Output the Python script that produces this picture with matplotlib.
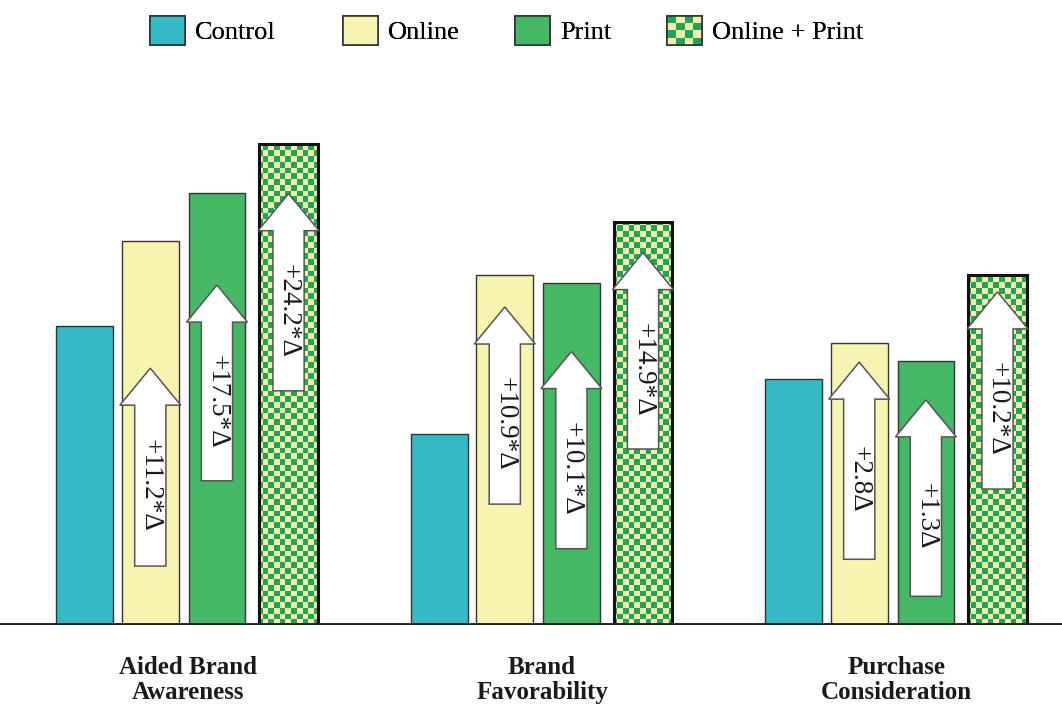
import numpy as np
import matplotlib
matplotlib.use("Agg")
import matplotlib.pyplot as plt
from matplotlib.patches import Rectangle, FancyArrow, Patch
from matplotlib.colors import ListedColormap
from matplotlib.legend_handler import HandlerBase

# data
categories = ["Aided Brand\nAwareness", "Brand\nFavorability", "Purchase\nConsideration"]
series = ["Control", "Online", "Print", "Online + Print"]
control = [39.6, 25.3, 32.6]
online = [50.9, 46.4, 37.4]
printed = [57.2, 45.3, 34.9]
online_print = [63.7, 53.3, 46.4]

# lift arrows for Online, Print, Online + Print in each category
lift_labels = [["+11.2*Δ", "+17.5*Δ", "+24.2*Δ"],
               ["+10.9*Δ", "+10.1*Δ", "+14.9*Δ"],
               ["+2.8Δ", "+1.3Δ", "+10.2*Δ"]]
arrow_top = [[34.0, 45.0, 57.1], [42.1, 36.2, 49.3], [34.8, 29.8, 44.1]]
arrow_bottom = [[7.8, 19.1, 31.0], [16.0, 10.1, 23.3], [8.7, 3.8, 18.0]]

# colours
teal = "#35b9c5"
pale = "#f7f3b1"
green = "#45b865"
chk_green = "#22a35c"
chk_yellow = "#f3efa6"

plt.rcParams['font.family'] = ['Liberation Serif', 'DejaVu Serif']

fig = plt.figure(figsize=(10.62, 7.09), dpi=100)
ax = fig.add_axes([0, 84 / 709, 1, 565 / 709])
xlim = (-0.529, 2.467)
ylim = (0, 74.8)
ax.set_xlim(*xlim)
ax.set_ylim(*ylim)

x = np.arange(len(categories))
offsets = [-0.29, -0.105, 0.083, 0.285]
w = 0.16

ax.bar(x + offsets[0], control, w, color=teal, edgecolor="#333333", lw=1, zorder=2)
ax.bar(x + offsets[1], online, w, color=pale, edgecolor="#333333", lw=1, zorder=2)
ax.bar(x + offsets[2], printed, w, color=green, edgecolor="#333333", lw=1, zorder=2)

# checkered bars: checker image clipped to each bar
rows, cols = 99, 186
checker = np.add.outer(np.arange(rows), np.arange(cols)) % 2
cmap = ListedColormap([chk_yellow, chk_green])
op_bars = ax.bar(x + offsets[3], online_print, w + 0.006, color="none", edgecolor="#111111", lw=2.2, zorder=3)
for b in op_bars:
    im = ax.imshow(checker, extent=(xlim[0], xlim[1], ylim[0], ylim[1]), origin="lower",
                   cmap=cmap, interpolation="nearest", aspect="auto", zorder=2.5)
    im.set_clip_path(b)
ax.set_xlim(*xlim)
ax.set_ylim(*ylim)

# arrows with lift labels
head_len = 4.9
for i in range(len(categories)):
    for j in range(3):
        xc = x[i] + offsets[j + 1]
        top = arrow_top[i][j]
        bot = arrow_bottom[i][j]
        arr = FancyArrow(xc, bot, 0, top - bot, width=0.088, head_width=0.172,
                         head_length=head_len, length_includes_head=True,
                         facecolor="white", edgecolor="#555555", lw=1.1, zorder=4)
        ax.add_patch(arr)
        ax.text(xc, (bot + top - head_len) / 2, lift_labels[i][j], rotation=-90,
                ha="center", va="center", fontsize=19.5, color="#1a1a1a", zorder=5)

ax.axhline(0, color="#222222", lw=2.8, zorder=6)

for s in ax.spines.values():
    s.set_visible(False)
ax.set_yticks([])
ax.set_xticks(x, categories, fontsize=18, fontweight="bold", linespacing=1.12, color="#1a1a1a")
ax.tick_params(axis="x", length=0, pad=22)


class CheckerHandler(HandlerBase):
    def create_artists(self, legend, orig_handle, xdescent, ydescent, width, height, fontsize, trans):
        arts = []
        n = 4
        for i in range(n):
            for j in range(n):
                c = chk_green if (i + j) % 2 == 1 else chk_yellow
                arts.append(Rectangle((-xdescent + i * width / n, -ydescent + j * height / n),
                                      width / n, height / n, facecolor=c, edgecolor="none",
                                      transform=trans))
        arts.append(Rectangle((-xdescent, -ydescent), width, height, fill=False,
                              edgecolor="#333333", lw=1.2, transform=trans))
        return arts


handles = [Patch(facecolor=teal, edgecolor="#333333", lw=1.2),
           Patch(facecolor=pale, edgecolor="#333333", lw=1.2),
           Patch(facecolor=green, edgecolor="#333333", lw=1.2),
           Patch(facecolor=chk_green, edgecolor="#333333")]
# one legend entry per slot so the spacing follows the original
legend_left = [150, 343, 515, 667]
for h, lab, left in zip(handles, series, legend_left):
    lg = fig.legend([h], [lab], loc="center left", bbox_to_anchor=(left / 1062, 0.957),
                    frameon=False, fontsize=19, handlelength=1.33, handleheight=1.3,
                    handletextpad=0.38, borderpad=0, borderaxespad=0,
                    handler_map={handles[3]: CheckerHandler()})
    fig.add_artist(lg)

fig.savefig("out.png", dpi=100)
